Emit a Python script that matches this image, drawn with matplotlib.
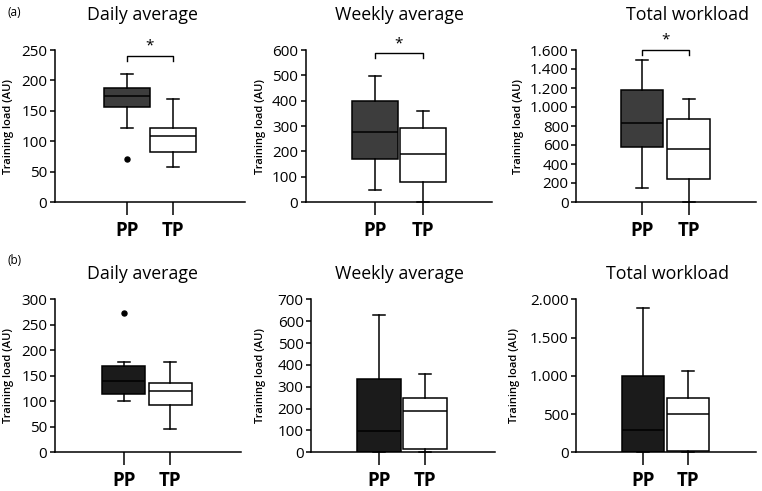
import matplotlib
matplotlib.use('Agg')
import matplotlib.pyplot as plt
from matplotlib.ticker import FuncFormatter, MultipleLocator

# ---------------- data ----------------
groups = ['PP', 'TP']
titles = ['Daily average', 'Weekly average', 'Total workload']
row_labels = ['(a)', '(b)']
ylabel = 'Training load (AU)'

# five-number summaries: [whisker low, Q1, median, Q3, whisker high]
daily_a_pp = [121, 156, 175, 188, 210]
daily_a_tp = [58, 82, 108, 121, 170]
daily_a_pp_out = [71]
weekly_a_pp = [48, 170, 277, 397, 497]
weekly_a_tp = [0, 80, 188, 294, 360]
total_a_pp = [145, 583, 834, 1177, 1494]
total_a_tp = [0, 247, 553, 876, 1081]

daily_b_pp = [100, 115, 139, 169, 178]
daily_b_tp = [46, 92, 120, 135, 178]
daily_b_pp_out = [274]
weekly_b_pp = [0, 0, 97, 335, 628]
weekly_b_tp = [0, 15, 189, 250, 358]
total_b_pp = [0, 0, 290, 995, 1890]
total_b_tp = [0, 17, 500, 710, 1068]

ymax_a = [250, 600, 1600]
ystep_a = [50, 100, 200]
ymax_b = [300, 700, 2000]
ystep_b = [50, 100, 500]
sig_y_a = [240, 587, 1600]   # significance bracket heights (row a)

# ---------------- style ----------------
W, H = 762, 491
fig = plt.figure(figsize=(W / 100, H / 100), dpi=100)
FONT = 'Open Sans'
XFONT = ['Liberation Sans Narrow', 'Open Sans', 'DejaVu Sans']
pp_colors = ['#3d3d3d', '#1b1b1b']

# layout in pixels: (axis left, axis right, PP centre, TP centre, box width)
layout = [
    [(55, 245, 127, 173, 46), (305.7, 492, 374.7, 423.3, 46), (576.3, 756, 642, 688.5, 42.5)],
    [(55, 240.7, 123.7, 170.3, 42.7), (311.3, 494.7, 379, 424.7, 43.7), (576.3, 756, 643, 688.3, 42)],
]
rows_y = [(50, 202), (299.3, 452.3)]
title_pos = [[(142, 15), (399, 15), (687, 15)], [(142.5, 274), (399.5, 274), (668, 274)]]
ylabel_x = [[8, 261, 518], [8, 261, 515]]

data = [
    [(daily_a_pp, daily_a_tp, daily_a_pp_out), (weekly_a_pp, weekly_a_tp, []), (total_a_pp, total_a_tp, [])],
    [(daily_b_pp, daily_b_tp, daily_b_pp_out), (weekly_b_pp, weekly_b_tp, []), (total_b_pp, total_b_tp, [])],
]
ymaxs = [ymax_a, ymax_b]
ysteps = [ystep_a, ystep_b]


def fmt(v, p):
    return f'{int(round(v)):,}'.replace(',', '.')


def stats(s, fl, label):
    return dict(whislo=s[0], q1=s[1], med=s[2], q3=s[3], whishi=s[4], fliers=fl, label=label)


for r in range(2):
    top_px, bot_px = rows_y[r]
    for c in range(3):
        left, right, ppc, tpc, bw = layout[r][c]
        ax = fig.add_axes([left / W, (H - bot_px) / H, (right - left) / W, (bot_px - top_px) / H])
        s = tpc - ppc
        ax.set_xlim(1 - (ppc - left) / s, 2 + (right - tpc) / s)
        pp, tp, out = data[r][c]
        bstats = [stats(pp, out, groups[0]), stats(tp, [], groups[1])]
        bp = ax.bxp(bstats, positions=[1, 2], widths=bw / s, patch_artist=True,
                    capwidths=12 / s,
                    boxprops=dict(edgecolor='black', linewidth=1.1),
                    whiskerprops=dict(color='black', linewidth=1.1),
                    capprops=dict(color='black', linewidth=1.1),
                    medianprops=dict(color='black', linewidth=1.1),
                    flierprops=dict(marker='o', markerfacecolor='black', markeredgecolor='black',
                                    markersize=3.6))
        bp['boxes'][0].set_facecolor(pp_colors[r])
        bp['boxes'][1].set_facecolor('white')
        for a in bp['whiskers'] + bp['caps']:
            a.set_clip_on(False)

        ax.set_ylim(0, ymaxs[r][c])
        ax.yaxis.set_major_locator(MultipleLocator(ysteps[r][c]))
        ax.yaxis.set_major_formatter(FuncFormatter(fmt))
        for sp in ['top', 'right']:
            ax.spines[sp].set_visible(False)
        for sp in ['left', 'bottom']:
            ax.spines[sp].set_linewidth(1.1)
        ax.tick_params(axis='y', direction='out', length=3.5, width=1.1, labelsize=11, pad=2)
        ax.tick_params(axis='x', direction='out', length=9.4, width=1.1, labelsize=13.5, pad=4)
        for lab in ax.get_yticklabels():
            lab.set_fontfamily(FONT)
        for lab in ax.get_xticklabels():
            lab.set_fontfamily(XFONT)
            lab.set_fontweight('bold')
        ax.set_ylabel(ylabel, fontsize=8, fontfamily=FONT, fontweight='semibold')
        ax.yaxis.set_label_coords((ylabel_x[r][c] - left) / (right - left), 0.5)
        ax.yaxis.label.set_verticalalignment('center')

        tx, ty = title_pos[r][c]
        fig.text(tx / W, 1 - ty / H, titles[c], ha='center', va='center', fontsize=12.8,
                 fontfamily=FONT)

        if r == 0:
            y = sig_y_a[c]
            d = 0.03 * ymaxs[r][c]
            ax.plot([1, 1, 2, 2], [y - d, y, y, y - d], color='black', lw=1, clip_on=False)
            ax.text(1.5, y + 0.015 * ymaxs[r][c], '*', ha='center', va='bottom', fontsize=11,
                    fontfamily=FONT, clip_on=False)

fig.text(8 / W, 1 - 13 / H, row_labels[0], fontsize=8.5, fontfamily=FONT, va='center')
fig.text(8 / W, 1 - 260 / H, row_labels[1], fontsize=8.5, fontfamily=FONT, va='center')

fig.savefig('out.png', dpi=100)
